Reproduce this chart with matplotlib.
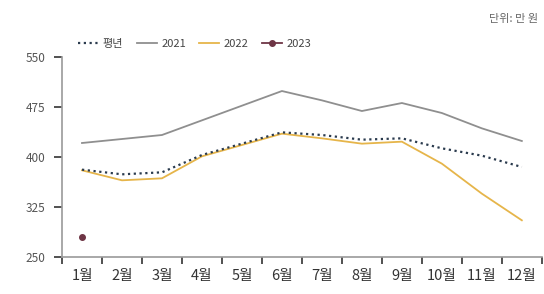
import matplotlib.pyplot as plt
import numpy as np

plt.rcParams['font.family'] = ['Noto Sans CJK KR', 'DejaVu Sans']

months = ['1월', '2월', '3월', '4월', '5월', '6월', '7월', '8월', '9월', '10월', '11월', '12월']
normal = [381, 374, 377, 403, 420, 437, 433, 426, 428, 413, 402, 385]
y2021 = [421, 427, 433, 455, 477, 499, 485, 469, 481, 466, 443, 424]
y2022 = [380, 365, 368, 401, 418, 435, 428, 420, 423, 390, 345, 305]
y2023 = [280]

grey = '#555555'
fig = plt.figure(figsize=(5.44, 2.94), dpi=100)
ax = fig.add_axes([0.114, 0.126, 0.882, 0.68])

x = np.arange(len(months))
ax.plot(x, normal, color='#2b3b4e', lw=1.6, ls=(0, (1, 1.6)), label='평년', zorder=4)
ax.plot(x, y2021, color='#8f8f8f', lw=1.3, label='2021')
ax.plot(x, y2022, color='#e6b54a', lw=1.3, label='2022')
ax.plot(x[:len(y2023)], y2023, color='#6e3545', lw=1.3, marker='o', ms=4, label='2023')

ax.set_xlim(-0.5, 11.5)
ax.set_ylim(250, 550)
ax.set_yticks([250, 325, 400, 475, 550])
ax.set_xticks(np.arange(-0.5, 12, 1))
ax.set_xticklabels([])
ax.set_xticks(x, minor=True)
ax.set_xticklabels(months, minor=True)
ax.tick_params(axis='x', which='minor', length=0, pad=9, labelsize=10.5, colors='#333333')
ax.tick_params(axis='x', which='major', length=5, width=1.2, color='#333333', direction='out')
ax.tick_params(axis='y', length=6, width=1.2, color='#333333', labelsize=8.5, labelcolor=grey, pad=6)

for s in ['top', 'right']:
    ax.spines[s].set_visible(False)
for s in ['left', 'bottom']:
    ax.spines[s].set_color('#999999')
    ax.spines[s].set_linewidth(1.2)

leg = ax.legend(loc='lower left', bbox_to_anchor=(0.025, 1.02), ncol=4, frameon=False,
                fontsize=8, handlelength=1.8, handletextpad=0.4, columnspacing=1.2,
                borderaxespad=0)
for t in leg.get_texts():
    t.set_color('#444444')

fig.text(0.99, 0.935, '단위: 만 원', ha='right', va='center', fontsize=8, color='#666666')

fig.savefig('out.png', dpi=100)
